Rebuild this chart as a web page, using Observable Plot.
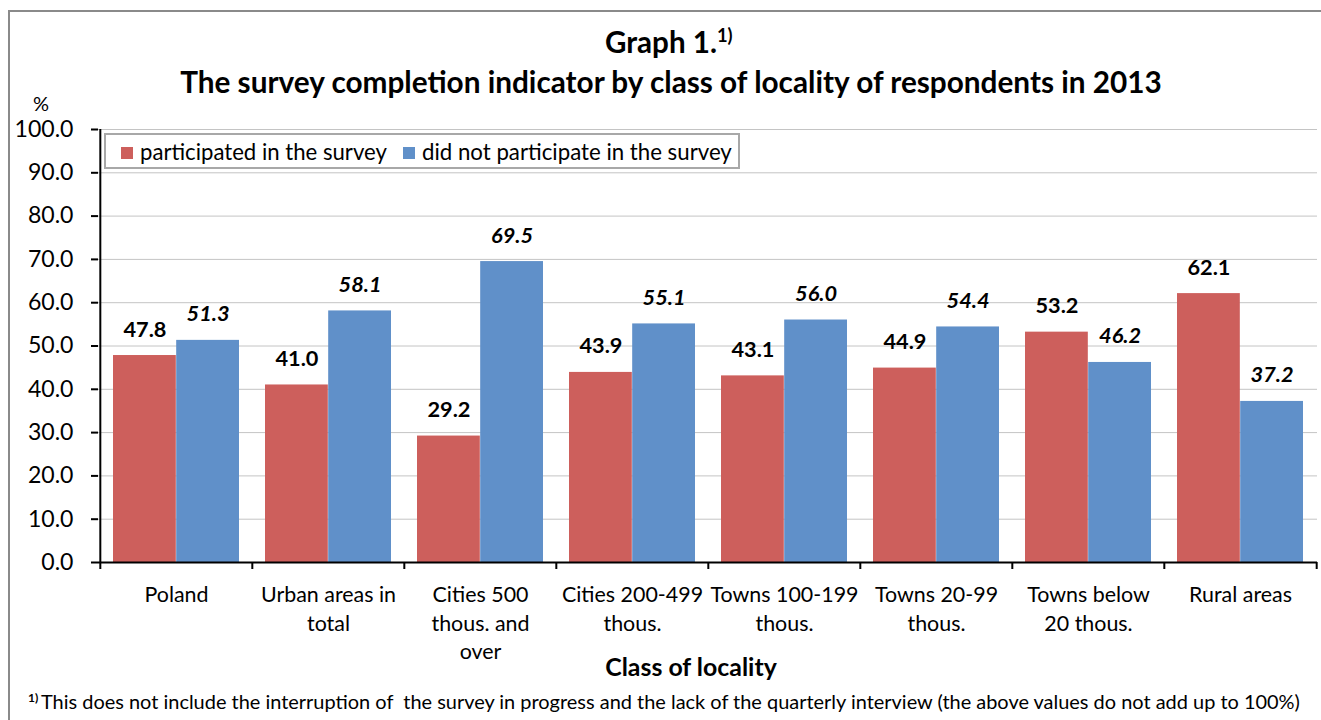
<!DOCTYPE html>
<html>
<head>
<meta charset="utf-8">
<script src="https://cdn.jsdelivr.net/npm/d3@7"></script>
<script src="https://cdn.jsdelivr.net/npm/@observablehq/plot@0.6"></script>
<style>
  html, body { margin: 0; padding: 0; background: #fff; }
  body { width: 1321px; height: 720px; overflow: hidden; font-family: Lato, "Noto Sans", sans-serif; }
  #root { position: relative; width: 1321px; height: 720px; }
  #frame { position: absolute; left: 8px; top: 10px; width: 1400px; height: 800px;
           border-top: 2px solid #8a8a8a; border-left: 2px solid #8a8a8a; box-sizing: border-box; }
  .abs { position: absolute; }
  svg text { font-family: Lato, "Noto Sans", sans-serif; }
</style>
</head>
<body>
<div id="root">
  <div id="frame"></div>
  <div id="chart" class="abs" style="left:0;top:100px"></div>
  <svg id="header" class="abs" style="left:0;top:0" width="1321" height="118"></svg>
  <svg id="legend" class="abs" style="left:104px;top:133px" width="640" height="38"></svg>
  <svg id="footer" class="abs" style="left:0;top:680px" width="1321" height="40"></svg>
</div>
<script>
// ---------------- data ----------------
const categories = [
  "Poland",
  "Urban areas in total",
  "Cities 500 thous. and over",
  "Cities 200-499 thous.",
  "Towns 100-199 thous.",
  "Towns 20-99 thous.",
  "Towns below 20 thous.",
  "Rural areas"
];
const tickLabels = [
  "Poland",
  "Urban areas in\ntotal",
  "Cities 500\nthous. and\nover",
  "Cities 200-499\nthous.",
  "Towns 100-199\nthous.",
  "Towns 20-99\nthous.",
  "Towns below\n20 thous.",
  "Rural areas"
];
const seriesNames = ["participated in the survey", "did not participate in the survey"];
const participated    = [47.8, 41.0, 29.2, 43.9, 43.1, 44.9, 53.2, 62.1];
const notParticipated = [51.3, 58.1, 69.5, 55.1, 56.0, 54.4, 46.2, 37.2];
const yTicks = [0, 10, 20, 30, 40, 50, 60, 70, 80, 90, 100];

const titleLine1 = "Graph 1.";
const titleSup = "1)";
const titleLine2 = "The survey completion indicator by class of locality of respondents in 2013";
const yUnit = "%";
const xTitle = "Class of locality";
const footSup = "1)";
const footText = "This does not include the interruption of  the survey in progress and the lack of the quarterly interview (the above values do not add up to 100%)";

const colors = ["#CD5F5C", "#6090C9"];

// -------------- helpers ---------------
const ctx = document.createElement("canvas").getContext("2d");
function fit(text, weight, style, target) {
  ctx.font = `${style} ${weight} 100px Lato`;
  return 100 * target / ctx.measureText(text).width;
}

const rowsP = categories.map((c, i) => ({category: c, value: participated[i]}));
const rowsN = categories.map((c, i) => ({category: c, value: notParticipated[i]}));

// -------------- layout ---------------
const W = 1321, ML = 98, MR = 4;
const band = (W - ML - MR) / categories.length;
const half = band / 2;
const outer = 13;
const barW = half - outer;

const yTickSize = fit("100.0", "normal", "normal", 59);
const catSize = fit("Towns 100-199", "normal", "normal", 148);
const valSize = fit("47.8", "bold", "normal", 43);
const classSize = fit(xTitle, "bold", "normal", 172);

// -------------- header ---------------
const header = d3.select("#header");
const t1 = fit(titleLine1, "bold", "normal", 112);
const l1 = header.append("text").attr("x", 605).attr("y", 53)
  .attr("font-weight", "bold").attr("font-size", t1).attr("fill", "#000");
l1.append("tspan").text(titleLine1);
l1.append("tspan").text(titleSup).attr("font-size", t1 * 0.62).attr("dy", -t1 * 0.38);
header.append("text").attr("x", 671).attr("y", 93).attr("text-anchor", "middle")
  .attr("font-weight", "bold").attr("font-size", fit(titleLine2, "bold", "normal", 986))
  .attr("fill", "#000").text(titleLine2);
header.append("text").attr("x", 33).attr("y", 111).attr("font-size", 20).attr("fill", "#000").text(yUnit);

// -------------- chart ---------------
const chart = Plot.plot({
  width: W,
  height: 580,
  marginTop: 29,
  marginBottom: 118,
  marginLeft: ML,
  marginRight: MR,
  style: {fontFamily: "Lato, 'Noto Sans', sans-serif", color: "#000", background: "transparent", overflow: "visible"},
  x: {domain: categories, padding: 0, axis: null, label: null},
  y: {domain: [0, 100], axis: null, label: null},
  marks: [
    Plot.gridY(yTicks.slice(1), {stroke: "#c4c4c4", strokeOpacity: 1, strokeWidth: 1}),
    Plot.barY(rowsP, {x: "category", y: "value", fill: colors[0], insetLeft: outer, insetRight: half}),
    Plot.barY(rowsN, {x: "category", y: "value", fill: colors[1], insetLeft: half, insetRight: outer}),
    Plot.text(rowsP, {x: "category", y: "value", text: d => d.value.toFixed(1), dx: -barW / 2, dy: -19,
      lineAnchor: "bottom", fontWeight: "bold", fontSize: valSize, fill: "#000"}),
    Plot.text(rowsN, {x: "category", y: "value", text: d => d.value.toFixed(1), dx: barW / 2, dy: -19,
      lineAnchor: "bottom", fontWeight: "bold", fontStyle: "italic", fontSize: valSize, fill: "#000"}),
    Plot.ruleY([0], {stroke: "#000", strokeWidth: 2}),
    Plot.ruleX([categories[0]], {x: d => d, y1: 0, y2: 100, dx: -half, stroke: "#000", strokeWidth: 2}),
    Plot.ruleX(categories, {x: d => d, y1: 0, y2: 0, insetBottom: -7, dx: -half, stroke: "#000", strokeWidth: 2}),
    Plot.ruleX([categories[categories.length - 1]], {x: d => d, y1: 0, y2: 0, insetBottom: -7, dx: half, stroke: "#000", strokeWidth: 2}),
    Plot.axisY({ticks: yTicks, tickSize: 7, tickPadding: 18, tickFormat: d => d.toFixed(1),
      fontSize: yTickSize, strokeWidth: 2, anchor: "left", label: null}),
    Plot.axisX({tickSize: 0, tickPadding: 19, tickFormat: d => tickLabels[categories.indexOf(d)],
      fontSize: catSize, lineHeight: 1.34, label: null}),
    Plot.text([xTitle], {text: d => d, frameAnchor: "bottom", dx: -17, dy: 113, lineAnchor: "bottom",
      fontWeight: "bold", fontSize: classSize, fill: "#000"})
  ]
});
document.getElementById("chart").appendChild(chart);

// -------------- legend ---------------
const legend = d3.select("#legend");
legend.append("rect").attr("x", 1).attr("y", 1).attr("width", 634).attr("height", 34)
  .attr("fill", "#fff").attr("stroke", "#a8a8a8").attr("stroke-width", 2);
const legX = [[17, 36, 247], [299, 318, 310]];
seriesNames.forEach((name, i) => {
  legend.append("rect").attr("x", legX[i][0]).attr("y", 14).attr("width", 12).attr("height", 12).attr("fill", colors[i]);
  legend.append("text").attr("x", legX[i][1]).attr("y", 27)
    .attr("font-size", fit(name, "normal", "normal", legX[i][2])).attr("fill", "#000").text(name);
});

// -------------- footer ---------------
const footer = d3.select("#footer");
footer.append("text").attr("x", 28).attr("y", 22).attr("font-size", 12).attr("font-weight", "bold")
  .attr("fill", "#000").text(footSup);
footer.append("text").attr("x", 41).attr("y", 29).attr("font-size", fit(footText, "normal", "normal", 1262))
  .attr("fill", "#000").style("white-space", "pre").text(footText);
</script>
</body>
</html>
